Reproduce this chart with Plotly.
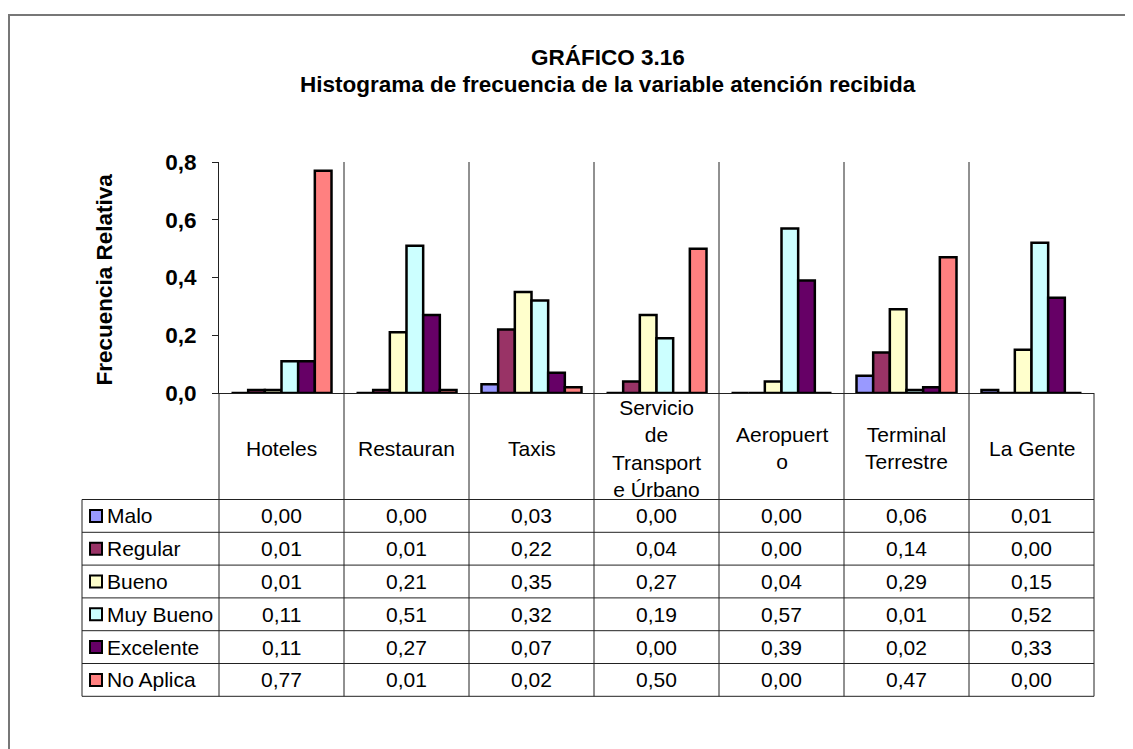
import plotly.graph_objects as go

# ---------------- data ----------------
categories = ["Hoteles", "Restauran", "Taxis", "Servicio de Transporte Úrbano",
              "Aeropuerto", "Terminal Terrestre", "La Gente"]
header_labels = ["Hoteles", "Restauran", "Taxis", "Servicio<br>de<br>Transport<br>e Úrbano",
                 "Aeropuert<br>o", "Terminal<br>Terrestre", "La Gente"]
series_names = ["Malo", "Regular", "Bueno", "Muy Bueno", "Excelente", "No Aplica"]

malo = [0.00, 0.00, 0.03, 0.00, 0.00, 0.06, 0.01]
regular = [0.01, 0.01, 0.22, 0.04, 0.00, 0.14, 0.00]
bueno = [0.01, 0.21, 0.35, 0.27, 0.04, 0.29, 0.15]
muy_bueno = [0.11, 0.51, 0.32, 0.19, 0.57, 0.01, 0.52]
excelente = [0.11, 0.27, 0.07, 0.00, 0.39, 0.02, 0.33]
no_aplica = [0.77, 0.01, 0.02, 0.50, 0.00, 0.47, 0.00]
series_values = [malo, regular, bueno, muy_bueno, excelente, no_aplica]

series_colors = ["#9999FF", "#993366", "#FFFFCC", "#CCFFFF", "#660066", "#FF8080"]
y_ticks = [0.0, 0.2, 0.4, 0.6, 0.8]

title_line1 = "GRÁFICO 3.16"
title_line2 = "Histograma de frecuencia de la variable atención recibida"
y_title = "Frecuencia Relativa"

# ---------------- layout (page pixels) ----------------
W, H = 1133, 749
PAGE_OFF = 8          # default body margin of the html page
PLOT_L, PLOT_R, PLOT_T, PLOT_B = 219, 1094, 162, 393
HEADER_BOTTOM = 499.5
ROW_H = 32.8
LEGEND_LEFT = 82
FONT = "Liberation Sans, Arial, sans-serif"
TXT = 21
BOLD = 22.5

x_range = [-0.5, len(categories) - 0.5]


def cat_to_paper(v):
    return (v - x_range[0]) / (x_range[1] - x_range[0])


def pxx(p):
    return (p - PLOT_L) / (PLOT_R - PLOT_L)


def pxy(p):
    return (PLOT_B - p) / (PLOT_B - PLOT_T)


fig = go.Figure()
for name, vals, col in zip(series_names, series_values, series_colors):
    fig.add_trace(go.Bar(
        x=categories, y=vals, name=name,
        marker=dict(color=col, line=dict(color="black", width=2.5)),
    ))

shapes = []
annotations = []
line_col = "#222222"
n_rows = len(series_names)
table_bottom = HEADER_BOTTOM + n_rows * ROW_H

# outer frame of chart area
shapes.append(dict(type="rect", xref="paper", yref="paper",
                   x0=pxx(9), x1=pxx(1200), y0=pxy(15), y1=pxy(800),
                   line=dict(color="#777777", width=2), fillcolor="rgba(0,0,0,0)", layer="below"))

# category separators (plot area + table)
for i in range(len(categories)):
    xb = cat_to_paper(i + 0.5)
    top = 1.0 if i < len(categories) - 1 else 0.0
    shapes.append(dict(type="line", xref="paper", yref="paper",
                       x0=xb, x1=xb, y0=top, y1=pxy(table_bottom),
                       line=dict(color=line_col, width=1)))
# y axis continuing through table
shapes.append(dict(type="line", xref="paper", yref="paper",
                   x0=0, x1=0, y0=0, y1=pxy(table_bottom),
                   line=dict(color=line_col, width=1)))
# legend column left border
shapes.append(dict(type="line", xref="paper", yref="paper",
                   x0=pxx(LEGEND_LEFT), x1=pxx(LEGEND_LEFT),
                   y0=pxy(HEADER_BOTTOM), y1=pxy(table_bottom),
                   line=dict(color=line_col, width=1)))
# horizontal table lines
for r in range(n_rows + 1):
    yy = pxy(HEADER_BOTTOM + r * ROW_H)
    shapes.append(dict(type="line", xref="paper", yref="paper",
                       x0=pxx(LEGEND_LEFT), x1=1, y0=yy, y1=yy,
                       line=dict(color=line_col, width=1)))

# header labels
header_center = (PLOT_B + HEADER_BOTTOM) / 2 + 2
for i, lab in enumerate(header_labels):
    annotations.append(dict(xref="paper", yref="paper", x=cat_to_paper(i), y=pxy(header_center),
                            text=lab, showarrow=False, xanchor="center", yanchor="middle",
                            font=dict(family=FONT, size=TXT, color="black")))

# rows: legend key + name + values
for r, (name, vals, col) in enumerate(zip(series_names, series_values, series_colors)):
    yc = HEADER_BOTTOM + (r + 0.5) * ROW_H
    shapes.append(dict(type="rect", xref="paper", yref="paper",
                       x0=pxx(90), x1=pxx(102), y0=pxy(yc - 6), y1=pxy(yc + 6),
                       fillcolor=col, line=dict(color="black", width=2)))
    annotations.append(dict(xref="paper", yref="paper", x=pxx(105), y=pxy(yc),
                            text=name, showarrow=False, xanchor="left", yanchor="middle",
                            font=dict(family=FONT, size=TXT, color="black")))
    for i, v in enumerate(vals):
        annotations.append(dict(xref="paper", yref="paper", x=cat_to_paper(i), y=pxy(yc),
                                text=f"{v:.2f}".replace(".", ","), showarrow=False,
                                xanchor="center", yanchor="middle",
                                font=dict(family=FONT, size=TXT, color="black")))

# title (two lines)
for txt, yc in ((title_line1, 58), (title_line2, 84)):
    annotations.append(dict(xref="paper", yref="paper", x=pxx(608), y=pxy(yc),
                            text=txt, showarrow=False, xanchor="center", yanchor="middle",
                            font=dict(family=FONT, size=BOLD, color="black", weight="bold")))
# y-axis title
annotations.append(dict(xref="paper", yref="paper", x=pxx(103.5), y=pxy(280),
                        text=y_title, showarrow=False, textangle=-90,
                        xanchor="center", yanchor="middle",
                        font=dict(family=FONT, size=BOLD, color="black", weight="bold")))

fig.update_layout(
    width=W - PAGE_OFF, height=H - PAGE_OFF,
    margin=dict(l=PLOT_L - PAGE_OFF, r=W - PLOT_R, t=PLOT_T - PAGE_OFF, b=H - PLOT_B, pad=0),
    paper_bgcolor="white", plot_bgcolor="white",
    barmode="group", bargap=0.2, bargroupgap=0,
    showlegend=False,
    separators=",.",
    shapes=shapes, annotations=annotations,
    xaxis=dict(type="category", range=x_range, showticklabels=False, ticks="",
               showgrid=False, zeroline=False, showline=True, linecolor=line_col, linewidth=1),
    yaxis=dict(range=[0, 0.8], tickvals=y_ticks, tickformat=".1f", ticks="outside",
               ticklen=6, tickcolor=line_col, showline=True, linecolor=line_col, linewidth=1,
               showgrid=False, zeroline=False, ticklabelstandoff=11,
               tickfont=dict(family=FONT, size=BOLD, color="black", weight="bold")),
)

fig.write_html("out.html")
